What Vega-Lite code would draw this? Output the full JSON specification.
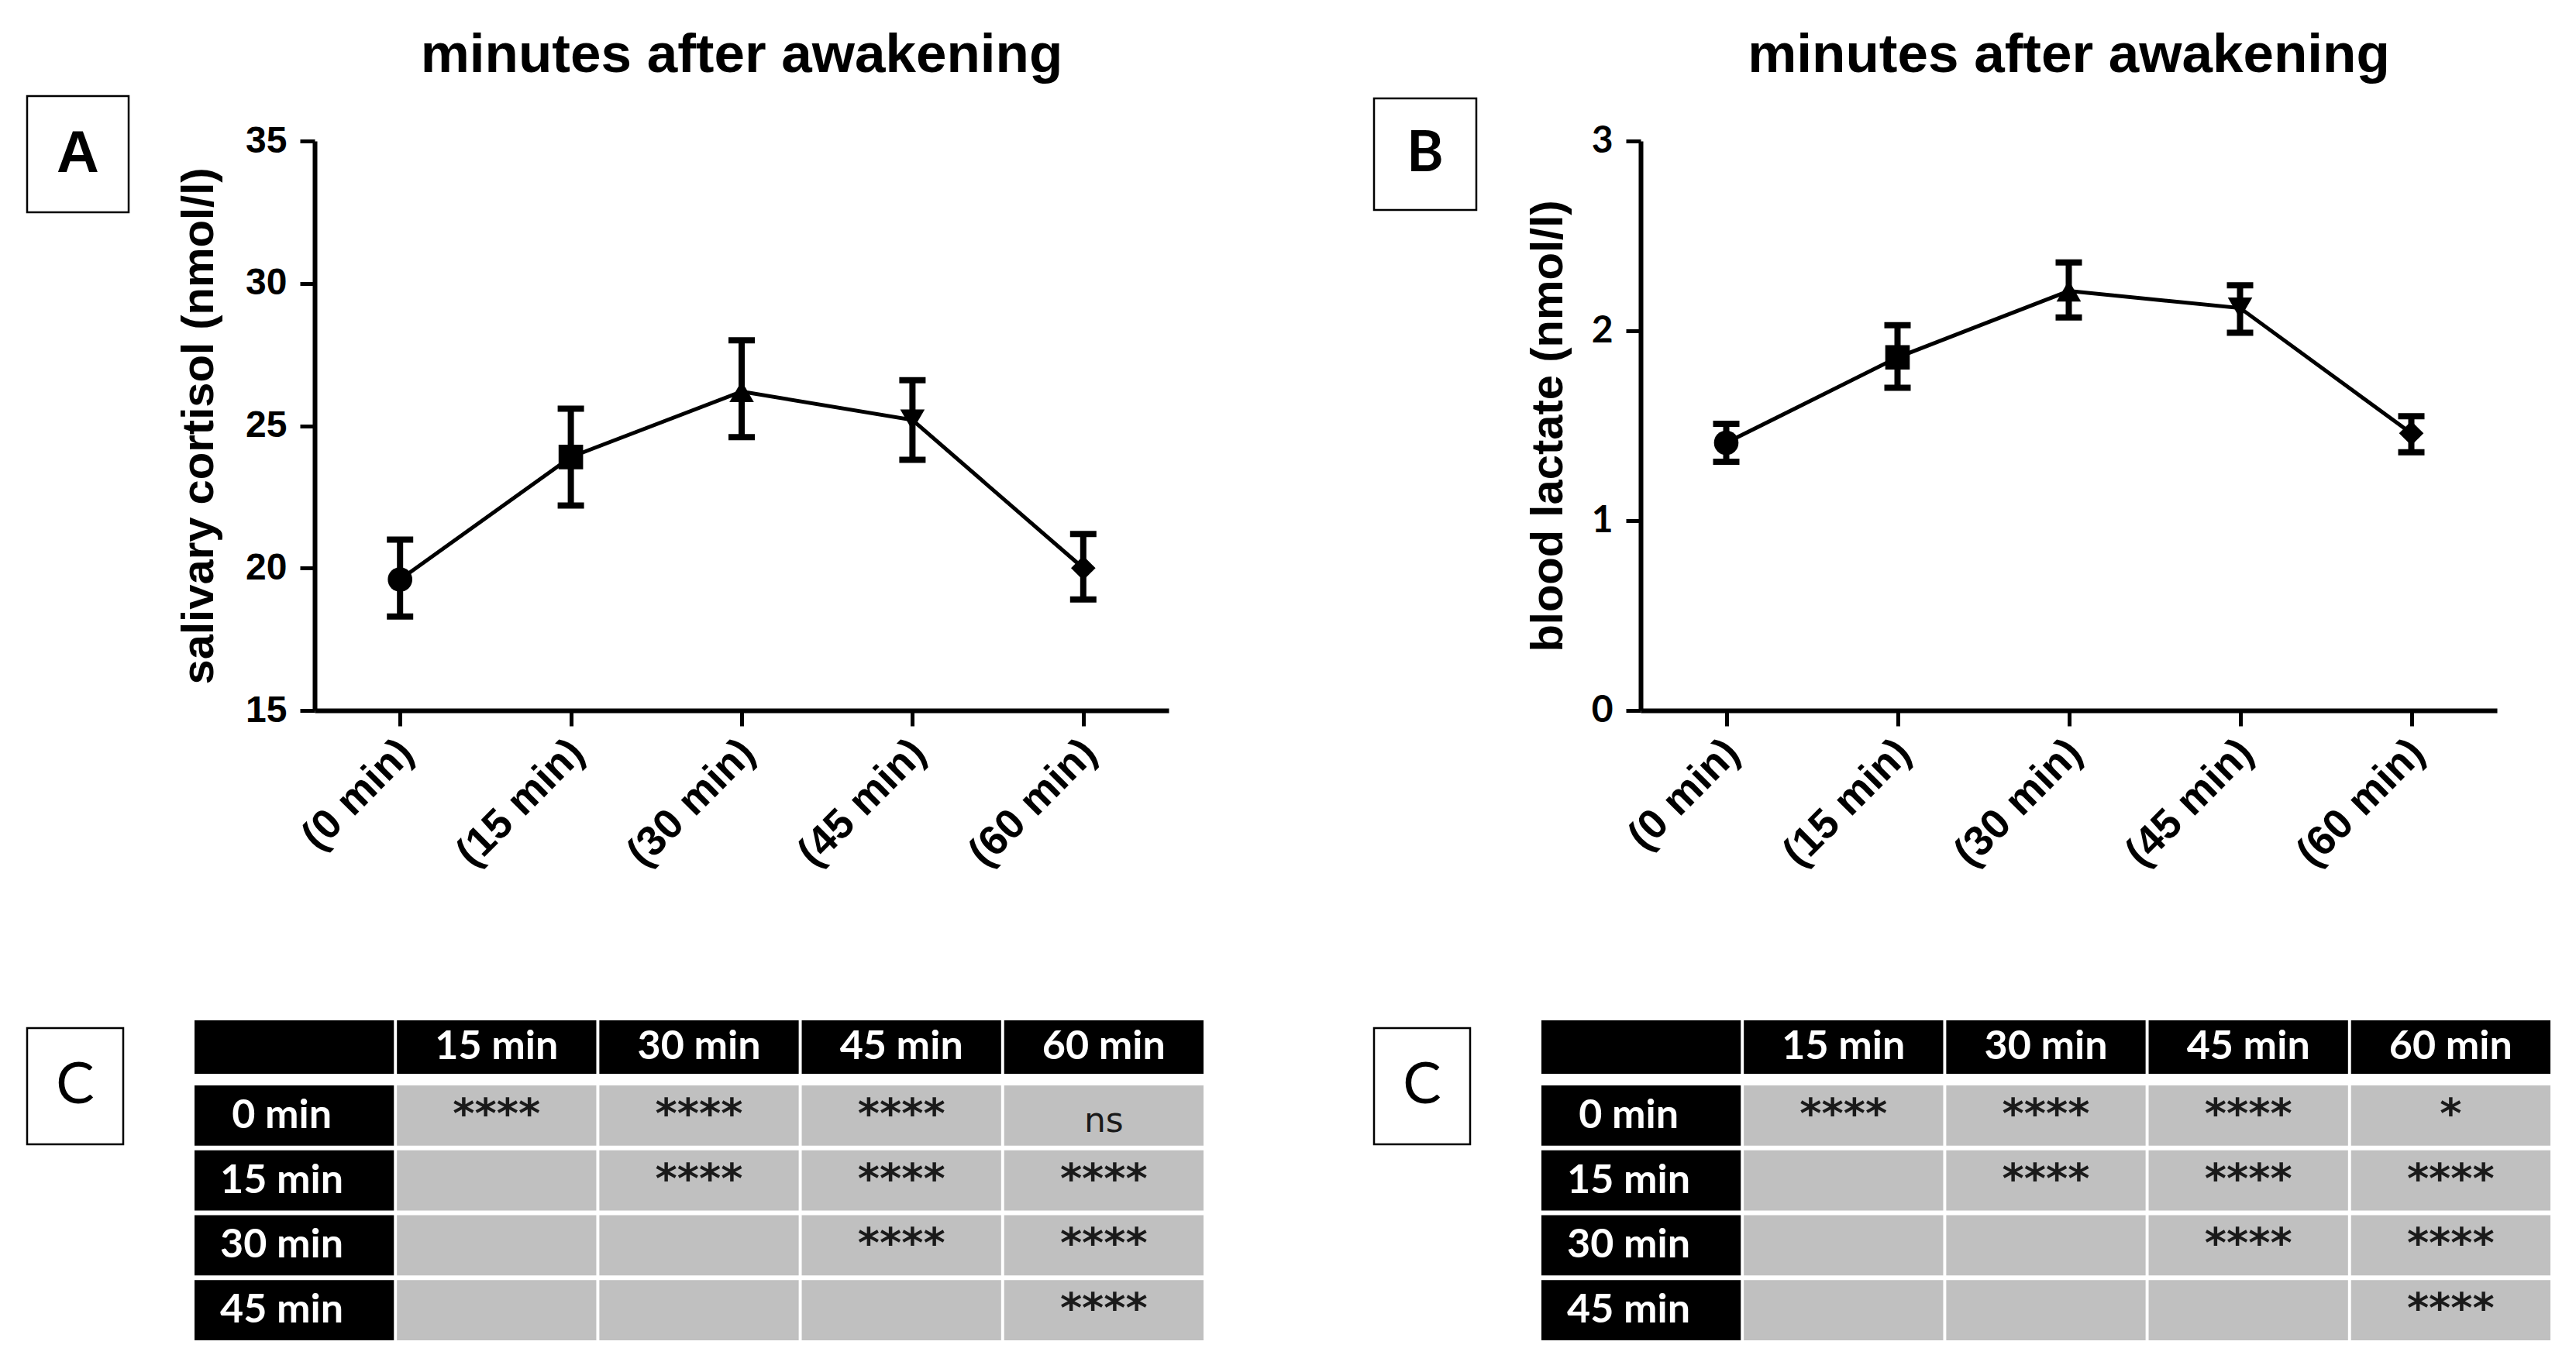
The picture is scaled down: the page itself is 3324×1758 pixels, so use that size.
{
  "$schema": "https://vega.github.io/schema/vega-lite/v6.json",
  "background": "white",
  "padding": {"left": 30, "top": 36, "right": 5, "bottom": 5},
  "spacing": 188,
  "datasets": {
    "cort": [
      {"time": "(0 min)", "mean": 19.6, "lo": 18.3, "hi": 21.0},
      {"time": "(15 min)", "mean": 23.9, "lo": 22.2, "hi": 25.6},
      {"time": "(30 min)", "mean": 26.2, "lo": 24.6, "hi": 28.0},
      {"time": "(45 min)", "mean": 25.2, "lo": 23.8, "hi": 26.6},
      {"time": "(60 min)", "mean": 20.0, "lo": 18.9, "hi": 21.2}
    ],
    "lact": [
      {"time": "(0 min)", "mean": 1.41, "lo": 1.31, "hi": 1.51},
      {"time": "(15 min)", "mean": 1.86, "lo": 1.70, "hi": 2.03},
      {"time": "(30 min)", "mean": 2.21, "lo": 2.07, "hi": 2.36},
      {"time": "(45 min)", "mean": 2.12, "lo": 1.99, "hi": 2.24},
      {"time": "(60 min)", "mean": 1.46, "lo": 1.36, "hi": 1.55}
    ],
    "tabA": [
      {"row": "header", "col": "label", "kind": "head", "text": ""},
      {"row": "header", "col": "15 min", "kind": "head", "text": "15 min"},
      {"row": "header", "col": "30 min", "kind": "head", "text": "30 min"},
      {"row": "header", "col": "45 min", "kind": "head", "text": "45 min"},
      {"row": "header", "col": "60 min", "kind": "head", "text": "60 min"},
      {"row": "0 min", "col": "label", "kind": "label", "text": "0 min"},
      {"row": "0 min", "col": "15 min", "kind": "cell", "text": "****"},
      {"row": "0 min", "col": "30 min", "kind": "cell", "text": "****"},
      {"row": "0 min", "col": "45 min", "kind": "cell", "text": "****"},
      {"row": "0 min", "col": "60 min", "kind": "cell", "text": "ns"},
      {"row": "15 min", "col": "label", "kind": "label", "text": "15 min"},
      {"row": "15 min", "col": "15 min", "kind": "cell", "text": ""},
      {"row": "15 min", "col": "30 min", "kind": "cell", "text": "****"},
      {"row": "15 min", "col": "45 min", "kind": "cell", "text": "****"},
      {"row": "15 min", "col": "60 min", "kind": "cell", "text": "****"},
      {"row": "30 min", "col": "label", "kind": "label", "text": "30 min"},
      {"row": "30 min", "col": "15 min", "kind": "cell", "text": ""},
      {"row": "30 min", "col": "30 min", "kind": "cell", "text": ""},
      {"row": "30 min", "col": "45 min", "kind": "cell", "text": "****"},
      {"row": "30 min", "col": "60 min", "kind": "cell", "text": "****"},
      {"row": "45 min", "col": "label", "kind": "label", "text": "45 min"},
      {"row": "45 min", "col": "15 min", "kind": "cell", "text": ""},
      {"row": "45 min", "col": "30 min", "kind": "cell", "text": ""},
      {"row": "45 min", "col": "45 min", "kind": "cell", "text": ""},
      {"row": "45 min", "col": "60 min", "kind": "cell", "text": "****"}
    ],
    "tabB": [
      {"row": "header", "col": "label", "kind": "head", "text": ""},
      {"row": "header", "col": "15 min", "kind": "head", "text": "15 min"},
      {"row": "header", "col": "30 min", "kind": "head", "text": "30 min"},
      {"row": "header", "col": "45 min", "kind": "head", "text": "45 min"},
      {"row": "header", "col": "60 min", "kind": "head", "text": "60 min"},
      {"row": "0 min", "col": "label", "kind": "label", "text": "0 min"},
      {"row": "0 min", "col": "15 min", "kind": "cell", "text": "****"},
      {"row": "0 min", "col": "30 min", "kind": "cell", "text": "****"},
      {"row": "0 min", "col": "45 min", "kind": "cell", "text": "****"},
      {"row": "0 min", "col": "60 min", "kind": "cell", "text": "*"},
      {"row": "15 min", "col": "label", "kind": "label", "text": "15 min"},
      {"row": "15 min", "col": "15 min", "kind": "cell", "text": ""},
      {"row": "15 min", "col": "30 min", "kind": "cell", "text": "****"},
      {"row": "15 min", "col": "45 min", "kind": "cell", "text": "****"},
      {"row": "15 min", "col": "60 min", "kind": "cell", "text": "****"},
      {"row": "30 min", "col": "label", "kind": "label", "text": "30 min"},
      {"row": "30 min", "col": "15 min", "kind": "cell", "text": ""},
      {"row": "30 min", "col": "30 min", "kind": "cell", "text": ""},
      {"row": "30 min", "col": "45 min", "kind": "cell", "text": "****"},
      {"row": "30 min", "col": "60 min", "kind": "cell", "text": "****"},
      {"row": "45 min", "col": "label", "kind": "label", "text": "45 min"},
      {"row": "45 min", "col": "15 min", "kind": "cell", "text": ""},
      {"row": "45 min", "col": "30 min", "kind": "cell", "text": ""},
      {"row": "45 min", "col": "45 min", "kind": "cell", "text": ""},
      {"row": "45 min", "col": "60 min", "kind": "cell", "text": "****"}
    ]
  },
  "vconcat": [
    {
      "spacing": 0,
      "bounds": "flush",
      "hconcat": [
        {
          "width": 131, "height": 34,
          "data": {"values": [{"k": "A"}]},
          "layer": [
            {"mark": {"type": "point", "shape": "M-1,-1.145L1,-1.145L1,1.145L-1,1.145Z", "size": 17161, "filled": false, "stroke": "black", "strokeWidth": 2.5, "opacity": 1}, "encoding": {}},
            {"mark": {"type": "text", "font": "Liberation Sans", "fontWeight": "bold", "fontSize": 76, "color": "black", "align": "center", "baseline": "middle"}, "encoding": {"text": {"field": "k"}}}
          ]
        },
        {"width": 240, "height": 10, "data": {"values": [{"s": 1}]}, "mark": {"type": "point", "opacity": 0}, "encoding": {}},
        {
          "width": 1102, "height": 735,
          "data": {"name": "cort"},
          "title": {"text": "minutes after awakening", "font": "Liberation Sans", "fontSize": 71, "fontWeight": "bold", "color": "black", "anchor": "middle", "offset": 50},
          "encoding": {
            "x": {"field": "time", "type": "ordinal", "sort": ["(0 min)", "(15 min)", "(30 min)", "(45 min)", "(60 min)"], "scale": {"type": "point", "padding": 0.5}, "title": null,
                  "axis": {"labelAngle": -45, "labelAlign": "right", "labelBaseline": "middle", "labelPadding": 26, "labelOffset": 8, "labelFontSize": 54, "labelLimit": 600, "tickSize": 20, "labelOverlap": false}}
          },
          "layer": [
            {"mark": {"type": "line", "color": "black", "strokeWidth": 5}, "encoding": {"y": {"field": "mean", "type": "quantitative", "scale": {"domain": [15, 35], "nice": false, "zero": false}, "axis": {"values": [15, 20, 25, 30, 35], "titlePadding": 30}, "title": "salivary cortisol (nmol/l)"}}},
            {"mark": {"type": "rule", "color": "black", "strokeWidth": 8}, "encoding": {"y": {"field": "lo", "type": "quantitative", "scale": {"domain": [15, 35], "nice": false, "zero": false}, "axis": {"values": [15, 20, 25, 30, 35], "titlePadding": 30}, "title": "salivary cortisol (nmol/l)"}, "y2": {"field": "hi"}}},
            {"mark": {"type": "tick", "orient": "horizontal", "color": "black", "size": 34, "thickness": 8, "opacity": 1}, "encoding": {"y": {"field": "lo", "type": "quantitative", "scale": {"domain": [15, 35], "nice": false, "zero": false}, "axis": {"values": [15, 20, 25, 30, 35], "titlePadding": 30}, "title": "salivary cortisol (nmol/l)"}}},
            {"mark": {"type": "tick", "orient": "horizontal", "color": "black", "size": 34, "thickness": 8, "opacity": 1}, "encoding": {"y": {"field": "hi", "type": "quantitative", "scale": {"domain": [15, 35], "nice": false, "zero": false}, "axis": {"values": [15, 20, 25, 30, 35], "titlePadding": 30}, "title": "salivary cortisol (nmol/l)"}}},
            {"mark": {"type": "point", "filled": true, "color": "black", "size": 1000, "opacity": 1}, "encoding": {"y": {"field": "mean", "type": "quantitative", "scale": {"domain": [15, 35], "nice": false, "zero": false}, "axis": {"values": [15, 20, 25, 30, 35], "titlePadding": 30}, "title": "salivary cortisol (nmol/l)"},
              "shape": {"field": "time", "type": "nominal", "scale": {"domain": ["(0 min)", "(15 min)", "(30 min)", "(45 min)", "(60 min)"], "range": ["circle", "square", "triangle-up", "triangle-down", "diamond"]}, "legend": null}}}
          ]
        },
        {"width": 265, "height": 10, "data": {"values": [{"s": 1}]}, "mark": {"type": "point", "opacity": 0}, "encoding": {}},
        {
          "width": 132, "height": 34,
          "data": {"values": [{"k": "B"}]},
          "layer": [
            {"mark": {"type": "point", "shape": "M-1,-1.091L1,-1.091L1,1.091L-1,1.091Z", "size": 17424, "filled": false, "stroke": "black", "strokeWidth": 2.5, "opacity": 1}, "encoding": {}},
            {"mark": {"type": "text", "font": "Lato", "fontWeight": "bold", "fontSize": 72, "color": "black", "align": "center", "baseline": "middle"}, "encoding": {"text": {"field": "k"}}}
          ]
        },
        {"width": 212, "height": 10, "data": {"values": [{"s": 1}]}, "mark": {"type": "point", "opacity": 0}, "encoding": {}},
        {
          "width": 1105, "height": 735,
          "data": {"name": "lact"},
          "title": {"text": "minutes after awakening", "font": "Liberation Sans", "fontSize": 71, "fontWeight": "bold", "color": "black", "anchor": "middle", "offset": 50},
          "encoding": {
            "x": {"field": "time", "type": "ordinal", "sort": ["(0 min)", "(15 min)", "(30 min)", "(45 min)", "(60 min)"], "scale": {"type": "point", "padding": 0.5}, "title": null,
                  "axis": {"labelAngle": -45, "labelAlign": "right", "labelBaseline": "middle", "labelPadding": 26, "labelOffset": 8, "labelFontSize": 54, "labelLimit": 600, "tickSize": 20, "labelOverlap": false}}
          },
          "layer": [
            {"mark": {"type": "line", "color": "black", "strokeWidth": 5}, "encoding": {"y": {"field": "mean", "type": "quantitative", "scale": {"domain": [0, 3], "nice": false}, "axis": {"values": [0, 1, 2, 3], "labelFont": "Lato", "labelFontSize": 48, "titlePadding": 26}, "title": "blood lactate (nmol/l)"}}},
            {"mark": {"type": "rule", "color": "black", "strokeWidth": 8}, "encoding": {"y": {"field": "lo", "type": "quantitative", "scale": {"domain": [0, 3], "nice": false}, "axis": {"values": [0, 1, 2, 3], "labelFont": "Lato", "labelFontSize": 48, "titlePadding": 26}, "title": "blood lactate (nmol/l)"}, "y2": {"field": "hi"}}},
            {"mark": {"type": "tick", "orient": "horizontal", "color": "black", "size": 34, "thickness": 8, "opacity": 1}, "encoding": {"y": {"field": "lo", "type": "quantitative", "scale": {"domain": [0, 3], "nice": false}, "axis": {"values": [0, 1, 2, 3], "labelFont": "Lato", "labelFontSize": 48, "titlePadding": 26}, "title": "blood lactate (nmol/l)"}}},
            {"mark": {"type": "tick", "orient": "horizontal", "color": "black", "size": 34, "thickness": 8, "opacity": 1}, "encoding": {"y": {"field": "hi", "type": "quantitative", "scale": {"domain": [0, 3], "nice": false}, "axis": {"values": [0, 1, 2, 3], "labelFont": "Lato", "labelFontSize": 48, "titlePadding": 26}, "title": "blood lactate (nmol/l)"}}},
            {"mark": {"type": "point", "filled": true, "color": "black", "size": 1000, "opacity": 1}, "encoding": {"y": {"field": "mean", "type": "quantitative", "scale": {"domain": [0, 3], "nice": false}, "axis": {"values": [0, 1, 2, 3], "labelFont": "Lato", "labelFontSize": 48, "titlePadding": 26}, "title": "blood lactate (nmol/l)"},
              "shape": {"field": "time", "type": "nominal", "scale": {"domain": ["(0 min)", "(15 min)", "(30 min)", "(45 min)", "(60 min)"], "range": ["circle", "square", "triangle-up", "triangle-down", "diamond"]}, "legend": null}}}
          ]
        }
      ]
    },
    {
      "spacing": 0,
      "bounds": "flush",
      "hconcat": [
        {
          "width": 124, "height": 170,
          "data": {"values": [{"k": "C"}]},
          "layer": [
            {"mark": {"type": "point", "shape": "M-1,-1.21L1,-1.21L1,1.21L-1,1.21Z", "size": 15376, "filled": false, "stroke": "black", "strokeWidth": 2.5, "opacity": 1}, "encoding": {}},
            {"mark": {"type": "text", "font": "Lato", "fontWeight": "normal", "fontSize": 74, "color": "black", "align": "center", "baseline": "middle"}, "encoding": {"text": {"field": "k"}}}
          ]
        },
        {"width": 92, "height": 10, "data": {"values": [{"s": 1}]}, "mark": {"type": "point", "opacity": 0}, "encoding": {}},
        {
          "width": 1302, "height": 413,
          "data": {"name": "tabA"},
          "resolve": {"scale": {"y": "independent"}},
          "encoding": {"x": {"field": "col", "type": "nominal", "scale": {"domain": ["label", "15 min", "30 min", "45 min", "60 min"], "paddingInner": 0.015, "paddingOuter": 0}, "axis": null}},
          "layer": [
            {
              "transform": [{"filter": "datum.row == 'header'"}],
              "encoding": {"y": {"field": "row", "type": "nominal", "scale": {"domain": ["header"], "paddingInner": 0.599, "paddingOuter": 1, "align": 0}, "axis": null}},
              "layer": [
                {"mark": {"type": "rect", "color": "black"}},
                {"mark": {"type": "text", "font": "Lato", "fontWeight": "bold", "fontSize": 52, "color": "white", "baseline": "middle"}, "encoding": {"text": {"field": "text"}}}
              ]
            },
            {
              "transform": [{"filter": "datum.row != 'header'"}],
              "encoding": {"y": {"field": "row", "type": "nominal", "scale": {"domain": ["0 min", "15 min", "30 min", "45 min"], "paddingInner": 0.0716, "paddingOuter": 0.5014, "align": 1}, "axis": null}},
              "layer": [
                {"mark": {"type": "rect"}, "encoding": {"color": {"field": "kind", "type": "nominal", "scale": {"domain": ["label", "cell"], "range": ["#000000", "#c0c0c0"]}, "legend": null}}},
                {"transform": [{"filter": "datum.kind == 'label'"}], "mark": {"type": "text", "font": "Lato", "fontWeight": "bold", "fontSize": 52, "color": "white", "baseline": "middle", "dx": -16}, "encoding": {"text": {"field": "text"}}},
                {"transform": [{"filter": "datum.kind == 'cell' && datum.text != 'ns'"}], "mark": {"type": "text", "font": "DejaVu Sans", "fontWeight": "bold", "fontSize": 54, "color": "#1a1a1a", "baseline": "middle"}, "encoding": {"text": {"field": "text"}}},
                {"transform": [{"filter": "datum.text == 'ns'"}], "mark": {"type": "text", "font": "DejaVu Sans", "fontWeight": "normal", "fontSize": 44, "color": "#1a1a1a", "baseline": "middle", "dy": 8}, "encoding": {"text": {"field": "text"}}}
              ]
            }
          ]
        },
        {"width": 220, "height": 10, "data": {"values": [{"s": 1}]}, "mark": {"type": "point", "opacity": 0}, "encoding": {}},
        {
          "width": 124, "height": 170,
          "data": {"values": [{"k": "C"}]},
          "layer": [
            {"mark": {"type": "point", "shape": "M-1,-1.21L1,-1.21L1,1.21L-1,1.21Z", "size": 15376, "filled": false, "stroke": "black", "strokeWidth": 2.5, "opacity": 1}, "encoding": {}},
            {"mark": {"type": "text", "font": "Lato", "fontWeight": "normal", "fontSize": 74, "color": "black", "align": "center", "baseline": "middle"}, "encoding": {"text": {"field": "k"}}}
          ]
        },
        {"width": 92, "height": 10, "data": {"values": [{"s": 1}]}, "mark": {"type": "point", "opacity": 0}, "encoding": {}},
        {
          "width": 1302, "height": 413,
          "data": {"name": "tabB"},
          "resolve": {"scale": {"y": "independent"}},
          "encoding": {"x": {"field": "col", "type": "nominal", "scale": {"domain": ["label", "15 min", "30 min", "45 min", "60 min"], "paddingInner": 0.015, "paddingOuter": 0}, "axis": null}},
          "layer": [
            {
              "transform": [{"filter": "datum.row == 'header'"}],
              "encoding": {"y": {"field": "row", "type": "nominal", "scale": {"domain": ["header"], "paddingInner": 0.599, "paddingOuter": 1, "align": 0}, "axis": null}},
              "layer": [
                {"mark": {"type": "rect", "color": "black"}},
                {"mark": {"type": "text", "font": "Lato", "fontWeight": "bold", "fontSize": 52, "color": "white", "baseline": "middle"}, "encoding": {"text": {"field": "text"}}}
              ]
            },
            {
              "transform": [{"filter": "datum.row != 'header'"}],
              "encoding": {"y": {"field": "row", "type": "nominal", "scale": {"domain": ["0 min", "15 min", "30 min", "45 min"], "paddingInner": 0.0716, "paddingOuter": 0.5014, "align": 1}, "axis": null}},
              "layer": [
                {"mark": {"type": "rect"}, "encoding": {"color": {"field": "kind", "type": "nominal", "scale": {"domain": ["label", "cell"], "range": ["#000000", "#c0c0c0"]}, "legend": null}}},
                {"transform": [{"filter": "datum.kind == 'label'"}], "mark": {"type": "text", "font": "Lato", "fontWeight": "bold", "fontSize": 52, "color": "white", "baseline": "middle", "dx": -16}, "encoding": {"text": {"field": "text"}}},
                {"transform": [{"filter": "datum.kind == 'cell' && datum.text != 'ns'"}], "mark": {"type": "text", "font": "DejaVu Sans", "fontWeight": "bold", "fontSize": 54, "color": "#1a1a1a", "baseline": "middle"}, "encoding": {"text": {"field": "text"}}},
                {"transform": [{"filter": "datum.text == 'ns'"}], "mark": {"type": "text", "font": "DejaVu Sans", "fontWeight": "normal", "fontSize": 44, "color": "#1a1a1a", "baseline": "middle", "dy": 8}, "encoding": {"text": {"field": "text"}}}
              ]
            }
          ]
        }
      ]
    }
  ],
  "config": {
    "view": {"stroke": null},
    "font": "Liberation Sans",
    "axis": {
      "domainColor": "black", "domainWidth": 6, "tickColor": "black", "tickWidth": 5, "tickSize": 19,
      "labelColor": "black", "labelFont": "Liberation Sans", "labelFontWeight": "bold", "labelFontSize": 48,
      "titleFont": "Liberation Sans", "titleFontWeight": "bold", "titleFontSize": 58, "titleColor": "black",
      "grid": false, "labelPadding": 17, "titlePadding": 22
    }
  }
}
